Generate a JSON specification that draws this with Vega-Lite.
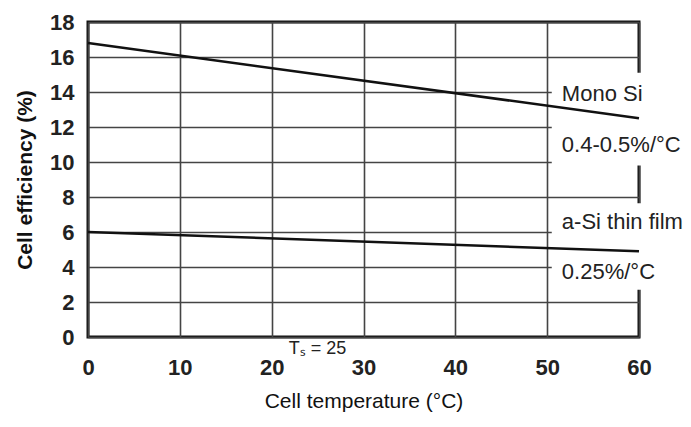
{
  "$schema": "https://vega.github.io/schema/vega-lite/v6.json",
  "width": 551,
  "height": 315,
  "autosize": {"type": "none"},
  "padding": {"left": 88, "top": 22, "right": 52, "bottom": 90},
  "background": "white",
  "config": {
    "font": "Liberation Sans",
    "view": {"stroke": "#111", "strokeWidth": 3},
    "axis": {
      "grid": true,
      "gridColor": "#444",
      "gridWidth": 1.6,
      "gridOpacity": 1,
      "domain": false,
      "ticks": false,
      "labelOverlap": false,
      "labelFlush": false,
      "labelFont": "Liberation Sans",
      "labelFontSize": 22,
      "labelFontWeight": "bold",
      "labelColor": "#222",
      "titleFont": "Liberation Sans",
      "titleColor": "#111"
    }
  },
  "datasets": {
    "lines": [
      {"series": "Mono Si", "t": 0, "eff": 16.8},
      {"series": "Mono Si", "t": 60, "eff": 12.5},
      {"series": "a-Si thin film", "t": 0, "eff": 6.0},
      {"series": "a-Si thin film", "t": 60, "eff": 4.9}
    ],
    "labels": [
      {"label": "Mono Si", "t": 51.6, "eff": 13.9},
      {"label": "0.4-0.5%/°C", "t": 51.6, "eff": 10.95},
      {"label": "a-Si thin film", "t": 51.6, "eff": 6.55},
      {"label": "0.25%/°C", "t": 51.6, "eff": 3.7}
    ],
    "masks": [
      {"t": 50.5, "t2": 70, "eff": 9.8, "eff2": 15.1},
      {"t": 50.5, "t2": 70, "eff": 2.7, "eff2": 7.65}
    ]
  },
  "encoding": {
    "x": {
      "field": "t", "type": "quantitative",
      "scale": {"domain": [0, 60], "nice": false},
      "axis": {
        "values": [0, 10, 20, 30, 40, 50, 60],
        "labelPadding": 20,
        "title": "Cell temperature (°C)",
        "titleFontSize": 21,
        "titleFontWeight": "normal",
        "titlePadding": 12
      }
    },
    "y": {
      "field": "eff", "type": "quantitative",
      "scale": {"domain": [0, 18], "nice": false},
      "axis": {
        "values": [0, 2, 4, 6, 8, 10, 12, 14, 16, 18],
        "labelPadding": 14,
        "title": "Cell efficiency (%)",
        "titleFontSize": 21,
        "titleFontWeight": "bold",
        "titlePadding": 14
      }
    }
  },
  "layer": [
    {
      "data": {"name": "masks"},
      "mark": {"type": "rect", "fill": "white", "stroke": null},
      "encoding": {
        "x2": {"field": "t2"},
        "y2": {"field": "eff2"}
      }
    },
    {
      "data": {"name": "lines"},
      "mark": {"type": "line", "color": "#111", "strokeWidth": 2.5},
      "encoding": {
        "detail": {"field": "series"}
      }
    },
    {
      "data": {"name": "labels"},
      "mark": {"type": "text", "align": "left", "baseline": "middle", "fontSize": 22, "color": "#222"},
      "encoding": {
        "text": {"field": "label"}
      }
    },
    {
      "data": {"values": [{"note": "Tₛ = 25", "t": 25, "eff": 0}]},
      "mark": {"type": "text", "align": "center", "baseline": "middle", "fontSize": 18, "dy": 12, "color": "#222"},
      "encoding": {
        "text": {"field": "note"}
      }
    }
  ]
}
